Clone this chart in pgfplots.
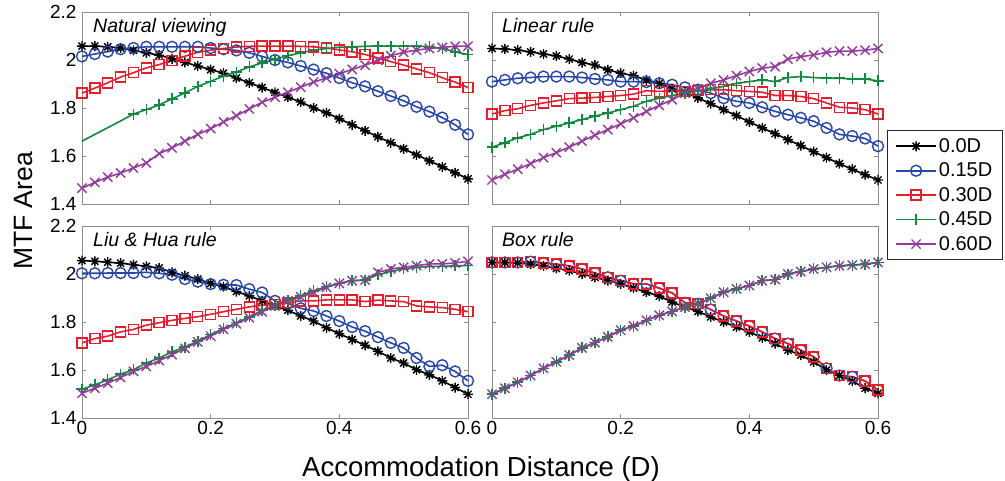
\documentclass[border=0pt]{standalone}
\usepackage{pgfplots}
\pgfplotsset{compat=1.18}
\usepackage{pgfplotstable}
\usepackage{fontspec}
\setmainfont{Liberation Sans}
\definecolor{cblue}{RGB}{40,70,165}
\definecolor{cred}{RGB}{228,30,45}
\definecolor{cgreen}{RGB}{20,135,65}
\definecolor{cpurple}{RGB}{145,60,155}

\pgfdeclareplotmark{mstar}{%
  \pgfpathmoveto{\pgfqpoint{0pt}{\pgfplotmarksize}}\pgfpathlineto{\pgfqpoint{0pt}{-\pgfplotmarksize}}%
  \pgfpathmoveto{\pgfqpoint{\pgfplotmarksize}{0pt}}\pgfpathlineto{\pgfqpoint{-\pgfplotmarksize}{0pt}}%
  \pgfpathmoveto{\pgfqpoint{.7071\pgfplotmarksize}{.7071\pgfplotmarksize}}\pgfpathlineto{\pgfqpoint{-.7071\pgfplotmarksize}{-.7071\pgfplotmarksize}}%
  \pgfpathmoveto{\pgfqpoint{-.7071\pgfplotmarksize}{.7071\pgfplotmarksize}}\pgfpathlineto{\pgfqpoint{.7071\pgfplotmarksize}{-.7071\pgfplotmarksize}}%
  \pgfusepathqstroke}

\pgfplotstableread{
x a b c d e
0.00 2.058 2.015 1.862 1.662 1.466
0.02 2.058 2.025 1.883 1.690 1.490
0.04 2.055 2.035 1.905 1.718 1.512
0.06 2.050 2.045 1.929 1.746 1.529
0.08 2.040 2.050 1.947 1.775 1.550
0.10 2.030 2.055 1.967 1.793 1.571
0.12 2.020 2.055 1.981 1.813 1.610
0.14 2.005 2.055 1.999 1.838 1.634
0.16 1.990 2.055 2.016 1.863 1.662
0.18 1.975 2.055 2.032 1.890 1.690
0.20 1.960 2.050 2.041 1.911 1.714
0.22 1.945 2.045 2.048 1.933 1.742
0.24 1.925 2.040 2.054 1.950 1.768
0.26 1.905 2.030 2.057 1.971 1.796
0.28 1.885 2.015 2.058 1.988 1.824
0.30 1.865 2.000 2.058 2.004 1.845
0.32 1.845 1.990 2.058 2.018 1.866
0.34 1.825 1.975 2.057 2.030 1.887
0.36 1.800 1.960 2.055 2.041 1.908
0.38 1.780 1.945 2.050 2.048 1.925
0.40 1.755 1.925 2.042 2.053 1.943
0.42 1.730 1.905 2.034 2.055 1.961
0.44 1.705 1.890 2.023 2.057 1.978
0.46 1.680 1.870 2.009 2.058 1.999
0.48 1.655 1.850 1.993 2.058 2.018
0.50 1.630 1.830 1.979 2.058 2.032
0.52 1.605 1.805 1.963 2.058 2.041
0.54 1.580 1.785 1.947 2.055 2.048
0.56 1.555 1.760 1.926 2.048 2.053
0.58 1.530 1.730 1.908 2.034 2.057
0.60 1.505 1.690 1.885 2.023 2.058
}\tA

\pgfplotstableread{
x a b c d e
0.00 2.048 1.910 1.775 1.637 1.500
0.02 2.046 1.917 1.789 1.655 1.524
0.04 2.041 1.924 1.797 1.676 1.545
0.06 2.034 1.927 1.811 1.690 1.568
0.08 2.025 1.931 1.821 1.710 1.593
0.10 2.017 1.931 1.830 1.724 1.614
0.12 2.004 1.931 1.839 1.738 1.637
0.14 1.989 1.927 1.841 1.752 1.662
0.16 1.979 1.921 1.844 1.766 1.687
0.18 1.959 1.917 1.848 1.779 1.710
0.20 1.945 1.910 1.852 1.793 1.734
0.22 1.935 1.910 1.858 1.807 1.759
0.24 1.917 1.908 1.872 1.828 1.786
0.26 1.903 1.903 1.869 1.841 1.811
0.28 1.880 1.897 1.872 1.852 1.834
0.30 1.866 1.886 1.869 1.862 1.862
0.32 1.842 1.876 1.872 1.872 1.880
0.34 1.818 1.862 1.876 1.880 1.903
0.36 1.793 1.841 1.876 1.890 1.917
0.38 1.768 1.828 1.872 1.903 1.935
0.40 1.742 1.821 1.869 1.910 1.952
0.42 1.717 1.803 1.866 1.917 1.966
0.44 1.693 1.786 1.852 1.910 1.972
0.46 1.668 1.772 1.852 1.927 2.004
0.48 1.643 1.759 1.848 1.931 2.014
0.50 1.618 1.745 1.839 1.927 2.021
0.52 1.593 1.717 1.821 1.924 2.032
0.54 1.568 1.690 1.803 1.924 2.037
0.56 1.545 1.683 1.800 1.921 2.037
0.58 1.522 1.673 1.793 1.921 2.041
0.60 1.500 1.641 1.775 1.913 2.048
}\tB

\pgfplotstableread{
x a b c d e
0.00 2.056 2.003 1.713 1.520 1.503
0.02 2.053 2.003 1.731 1.538 1.524
0.04 2.049 2.004 1.741 1.559 1.545
0.06 2.045 2.004 1.759 1.583 1.569
0.08 2.039 2.004 1.769 1.601 1.594
0.10 2.032 2.007 1.787 1.629 1.615
0.12 2.025 2.003 1.797 1.650 1.639
0.14 2.007 1.997 1.807 1.676 1.664
0.16 1.993 1.979 1.815 1.695 1.690
0.18 1.979 1.968 1.822 1.720 1.717
0.20 1.961 1.958 1.832 1.748 1.741
0.22 1.947 1.955 1.843 1.773 1.769
0.24 1.927 1.954 1.853 1.797 1.793
0.26 1.909 1.937 1.863 1.821 1.818
0.28 1.888 1.923 1.870 1.849 1.843
0.30 1.867 1.888 1.874 1.867 1.867
0.32 1.849 1.877 1.881 1.891 1.888
0.34 1.825 1.857 1.888 1.909 1.905
0.36 1.804 1.846 1.888 1.930 1.923
0.38 1.776 1.825 1.892 1.947 1.944
0.40 1.751 1.804 1.892 1.961 1.961
0.42 1.727 1.779 1.892 1.972 1.972
0.44 1.703 1.762 1.885 1.975 1.975
0.46 1.678 1.737 1.891 1.997 2.007
0.48 1.650 1.713 1.888 2.011 2.021
0.50 1.629 1.692 1.885 2.021 2.028
0.52 1.601 1.650 1.867 2.028 2.035
0.54 1.580 1.615 1.863 2.031 2.042
0.56 1.555 1.620 1.860 2.032 2.042
0.58 1.527 1.594 1.853 2.034 2.046
0.60 1.499 1.555 1.843 2.035 2.053
}\tC

\pgfplotstableread{
x a b c d e
0.00 2.048 2.048 2.048 1.499 1.499
0.02 2.048 2.048 2.048 1.524 1.524
0.04 2.046 2.048 2.048 1.549 1.549
0.06 2.041 2.051 2.051 1.577 1.577
0.08 2.034 2.046 2.046 1.607 1.607
0.10 2.023 2.041 2.041 1.634 1.634
0.12 2.014 2.034 2.034 1.662 1.662
0.14 2.000 2.021 2.021 1.692 1.692
0.16 1.986 2.004 2.004 1.714 1.714
0.18 1.972 1.986 1.986 1.738 1.738
0.20 1.959 1.972 1.972 1.766 1.766
0.22 1.941 1.959 1.959 1.783 1.783
0.24 1.924 1.959 1.959 1.807 1.807
0.26 1.908 1.941 1.941 1.828 1.828
0.28 1.883 1.921 1.921 1.844 1.844
0.30 1.862 1.880 1.880 1.862 1.862
0.32 1.844 1.876 1.876 1.876 1.876
0.34 1.821 1.852 1.852 1.899 1.899
0.36 1.800 1.825 1.825 1.924 1.924
0.38 1.779 1.804 1.804 1.938 1.938
0.40 1.759 1.783 1.783 1.952 1.952
0.42 1.734 1.759 1.759 1.972 1.972
0.44 1.710 1.731 1.731 1.977 1.977
0.46 1.683 1.710 1.710 2.000 2.000
0.48 1.662 1.683 1.683 2.010 2.010
0.50 1.634 1.655 1.655 2.021 2.021
0.52 1.600 1.607 1.607 2.028 2.028
0.54 1.577 1.577 1.577 2.034 2.034
0.56 1.554 1.572 1.572 2.037 2.037
0.58 1.524 1.554 1.554 2.041 2.041
0.60 1.503 1.517 1.517 2.048 2.048
}\tD

\pgfplotsset{
  panel/.style={
    width=386pt, height=192pt, scale only axis, clip=false,
    xmin=0, xmax=0.6, ymin=1.4, ymax=2.2,
    xtick={0,0.2,0.4,0.6}, ytick={1.4,1.6,1.8,2,2.2},
    tick align=inside, tick pos=both, major tick length=4pt,
    axis line style={black!45, line width=0.8pt},
    every tick/.style={black!45, line width=0.6pt},
    tick label style={font=\fontsize{19}{20}\selectfont, black},
    yticklabel style={xshift=-2pt},
    /pgf/number format/assume math mode=true,
    legend image code/.code={\draw[mark repeat=2,mark phase=2,##1] plot coordinates {(0pt,0pt) (20pt,0pt) (40pt,0pt)};},
  },
  s0/.style={black, line width=1.6pt, mark=mstar, mark size=5pt, mark options={line width=1.4pt, solid}},
  s1/.style={cblue, line width=1.6pt, mark=o, mark size=5.5pt, mark options={line width=1.4pt, solid}},
  s2/.style={cred, line width=1.6pt, mark=square, mark size=5pt, mark options={line width=1.4pt, solid}},
  s3/.style={cgreen, line width=1.6pt, mark=+, mark size=5.5pt, mark options={line width=1.5pt, solid}},
  s4/.style={cpurple, line width=1.6pt, mark=x, mark size=6.5pt, mark options={line width=1.4pt, solid}},
}
\tikzset{ptitle/.style={anchor=north west, inner sep=0pt, font=\fontsize{19.5}{20}\selectfont\itshape}}

\begin{document}
\begin{tikzpicture}
\useasboundingbox (0pt,0pt) rectangle (1005pt,-481pt);

% Natural viewing
\begin{axis}[panel, at={(82pt,-204pt)}, anchor=south west, xticklabels={}]
\addplot[s0] table[x=x,y=a]{\tA};
\addplot[s1] table[x=x,y=b]{\tA};
\addplot[s2] table[x=x,y=c]{\tA};
\addplot[s3, mark indices={5,6,7,8,9,10,11,12,13,14,15,16,17,18,19,20,21,22,23,24,25,26,27,28,29,30,31}] table[x=x,y=d]{\tA};
\addplot[s4] table[x=x,y=e]{\tA};
\node[ptitle] at (rel axis cs:0,1) [xshift=11pt, yshift=-6pt] {Natural viewing};
\end{axis}

% Linear rule
\begin{axis}[panel, at={(492pt,-204pt)}, anchor=south west, xticklabels={}, yticklabels={},
  legend style={at={(1.023,0.385)}, anchor=north west, draw=black!85, line width=0.9pt,
    font=\fontsize{20}{24}\selectfont, row sep=5pt, inner xsep=8pt, inner ysep=6pt,
    /tikz/every even column/.append style={column sep=12pt}},
  legend cell align=left]
\addplot[s0] table[x=x,y=a]{\tB};
\addplot[s1] table[x=x,y=b]{\tB};
\addplot[s2] table[x=x,y=c]{\tB};
\addplot[s3] table[x=x,y=d]{\tB};
\addplot[s4] table[x=x,y=e]{\tB};
\legend{0.0D,0.15D,0.30D,0.45D,0.60D}
\node[ptitle] at (rel axis cs:0,1) [xshift=10pt, yshift=-6pt] {Linear rule};
\end{axis}

% Liu & Hua rule
\begin{axis}[panel, at={(82pt,-418pt)}, anchor=south west]
\addplot[s0] table[x=x,y=a]{\tC};
\addplot[s1] table[x=x,y=b]{\tC};
\addplot[s2] table[x=x,y=c]{\tC};
\addplot[s3] table[x=x,y=d]{\tC};
\addplot[s4] table[x=x,y=e]{\tC};
\node[ptitle] at (rel axis cs:0,1) [xshift=11pt, yshift=-6pt] {Liu \& Hua rule};
\end{axis}

% Box rule
\begin{axis}[panel, at={(492pt,-418pt)}, anchor=south west, yticklabels={}]
\addplot[s0] table[x=x,y=a]{\tD};
\addplot[s1] table[x=x,y=b]{\tD};
\addplot[s2] table[x=x,y=c]{\tD};
\addplot[s3] table[x=x,y=d]{\tD};
\addplot[s4] table[x=x,y=e]{\tD};
\node[ptitle] at (rel axis cs:0,1) [xshift=10pt, yshift=-6pt] {Box rule};
\end{axis}

\node[rotate=90, anchor=base, font=\fontsize{26.5}{28}\selectfont] at (32pt,-211pt) {MTF Area};
\node[anchor=base, font=\fontsize{27.5}{30}\selectfont] at (481pt,-476pt) {Accommodation Distance (D)};
\end{tikzpicture}
\end{document}
